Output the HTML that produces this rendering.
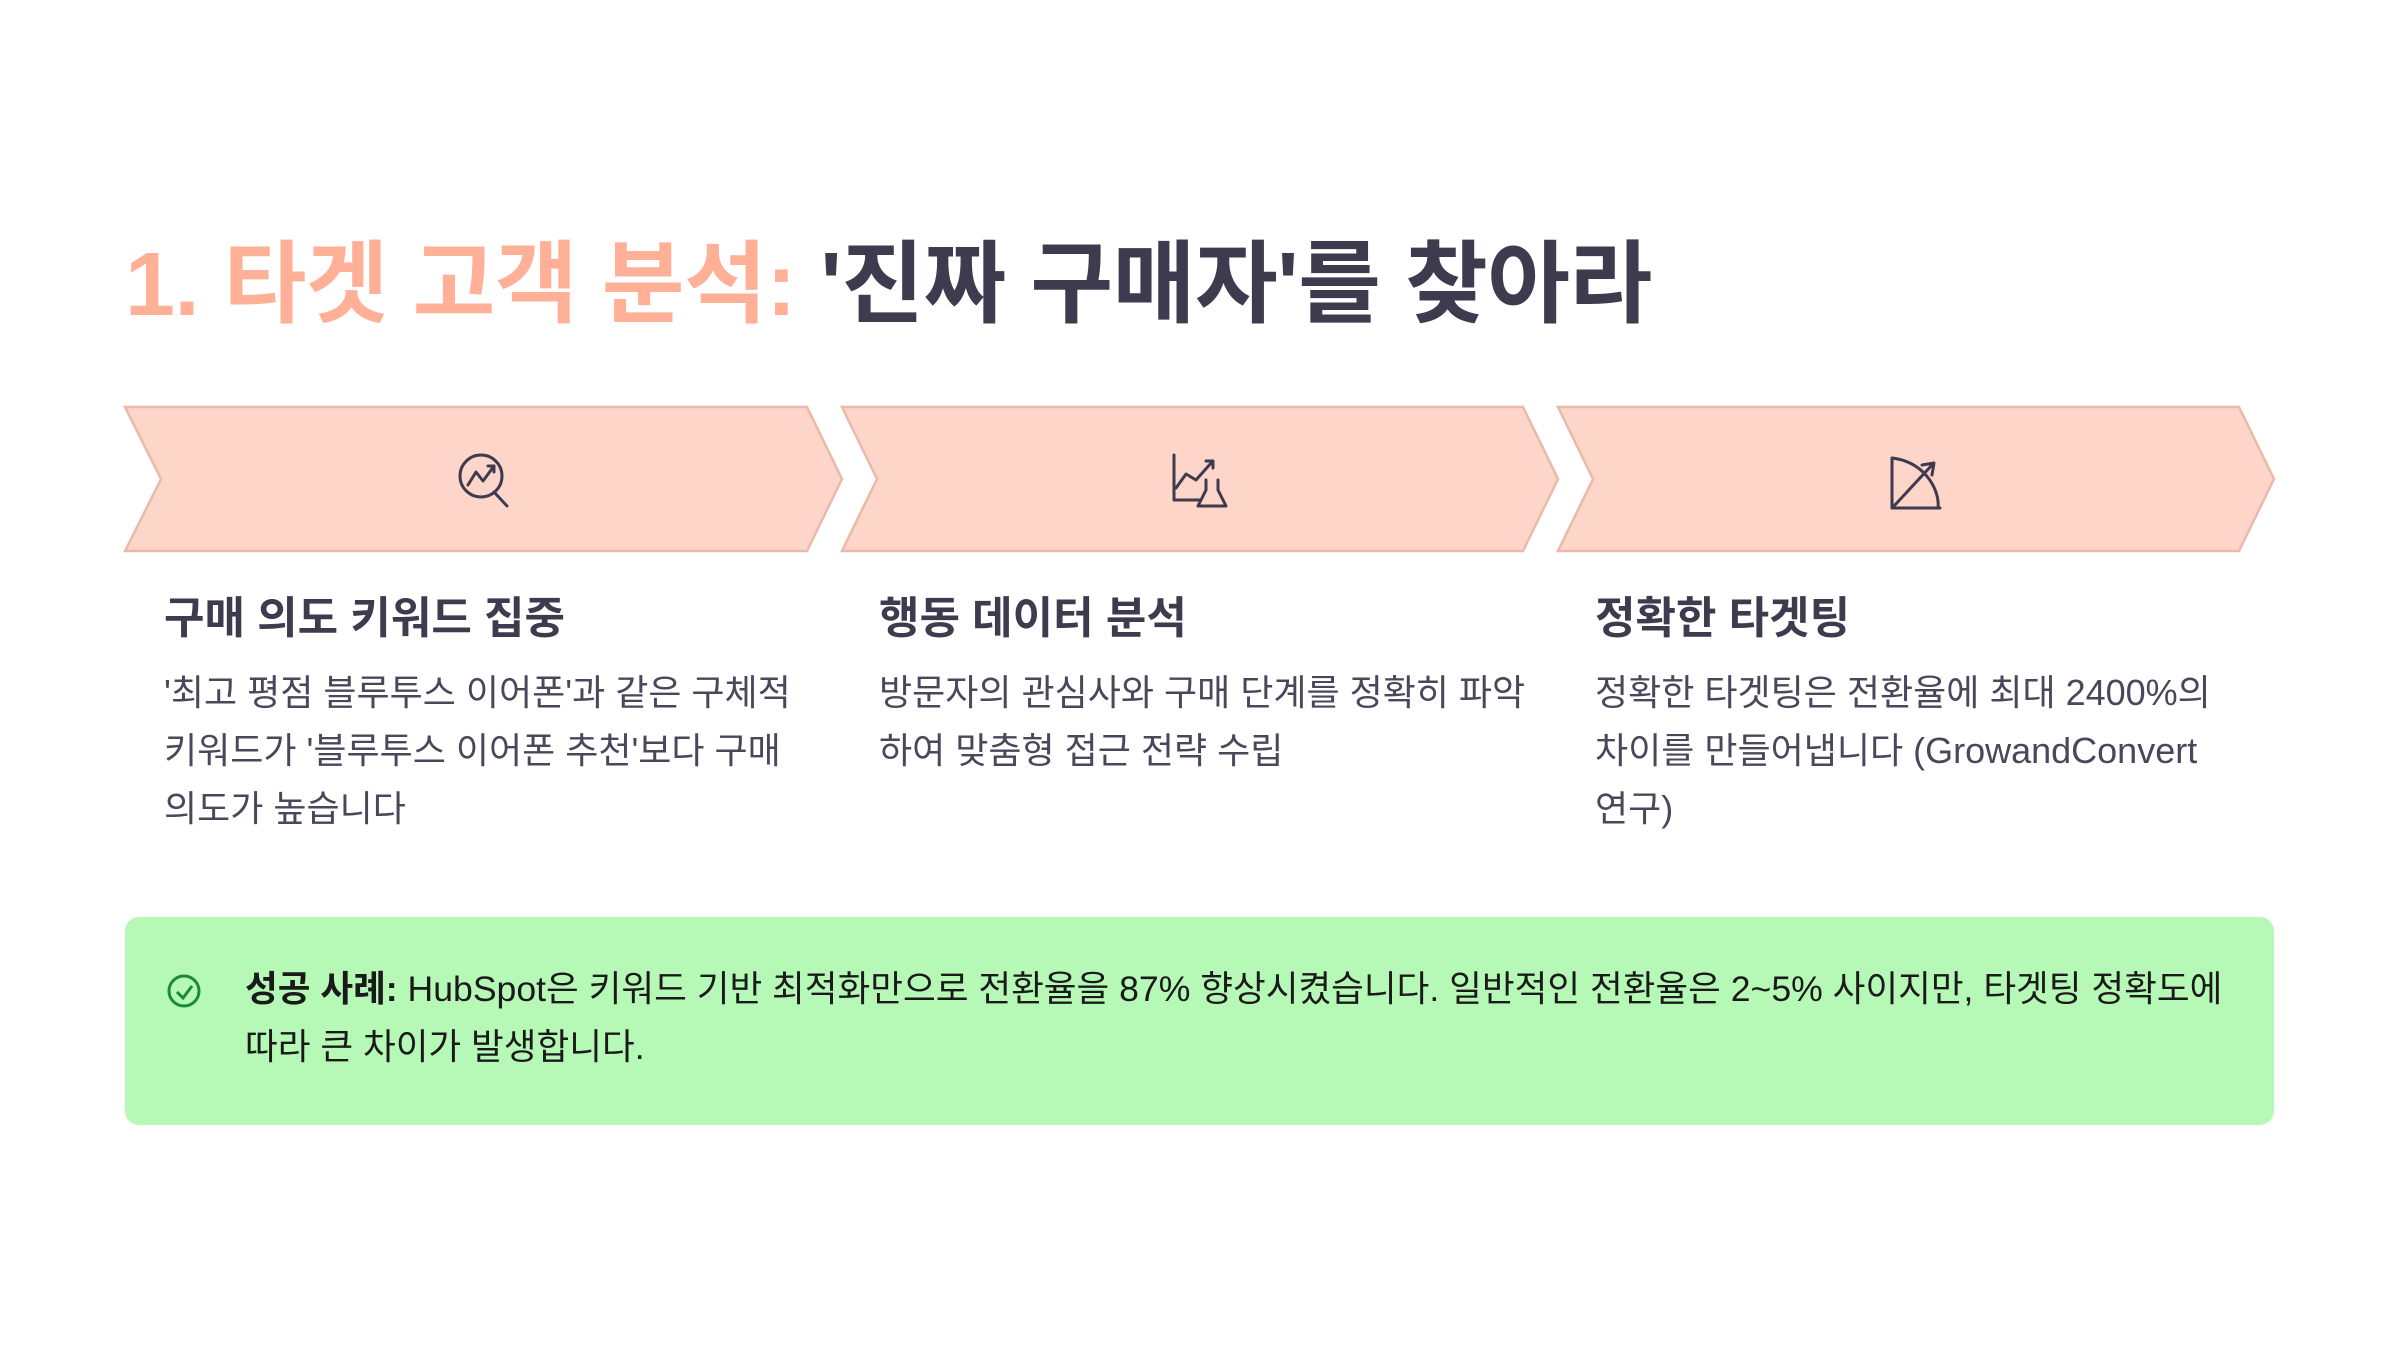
<!DOCTYPE html>
<html><head><meta charset="utf-8"><style>
body{margin:0;width:2400px;height:1350px;background:#fff;position:relative;overflow:hidden;font-family:"Liberation Sans","Noto Sans CJK KR",sans-serif;color:#3e3b4f}
.t{position:absolute;left:125px;top:211px;font-size:90px;font-weight:700;white-space:nowrap;letter-spacing:-0.5px}
.t span{color:#ffb097}
h3{position:absolute;margin:0;font-size:44px;font-weight:700;top:582px;white-space:nowrap}
p{position:absolute;margin:0;font-size:36px;line-height:58px;top:664px;width:690px;color:#4a475a;word-break:keep-all}
.g{position:absolute;left:125px;top:917px;width:2149px;height:208px;background:#b6f9b6;border-radius:14px}
.g p{left:120px;top:43px;width:2010px;color:#1a1a1a;font-size:35.6px}
</style></head><body>
<div class="t"><span>1. 타겟 고객 분석:</span> '진짜 구매자'를 찾아라</div>
<div class="g"><p><b>성공 사례:</b> HubSpot은 키워드 기반 최적화만으로 전환율을 87% 향상시켰습니다. 일반적인 전환율은 2~5% 사이지만, 타겟팅 정확도에 따라 큰 차이가 발생합니다.</p></div>
<svg width="2400" height="1350" style="position:absolute;left:0;top:0">
<g fill="#fdd6c9" stroke="#eab9a9" stroke-width="2.5">
<polygon points="125,407 807,407 842,479 807,551 125,551 161,479"/>
<polygon points="842,407 1523,407 1558,479 1523,551 842,551 877,479"/>
<polygon points="1558,407 2239,407 2274,479 2239,551 1558,551 1593,479"/>
</g>
<g fill="none" stroke="#3e3b4f" stroke-width="3" stroke-linecap="round" stroke-linejoin="round">
<circle cx="481" cy="476" r="21"/><path d="M494 492 L507 506"/><path d="M468 485 L476 472 L483 481 L494 466 M488 466 L494 466 L494 472"/>
<path d="M1174 455 V500 H1200 M1176 488 L1186 474 L1196 480 L1212 462 M1206 461 L1213 461 L1213 468"/>
<path d="M1206 480 V490 L1198 506 H1226 L1218 490 V480"/>
<path d="M1892 458 V508 H1940 M1892 458 C1925 462 1940 490 1938 508 M1894 506 L1932 465 M1922 465 L1934 463 L1932 475"/>
</g>
<circle cx="184" cy="991" r="15" fill="none" stroke="#1a8a3a" stroke-width="3"/>
<path d="M177 992 L183 998 L192 986" fill="none" stroke="#1a8a3a" stroke-width="3"/>
</svg>
<h3 style="left:164px">구매 의도 키워드 집중</h3>
<p style="left:164px">'최고 평점 블루투스 이어폰'과 같은 구체적 키워드가 '블루투스 이어폰 추천'보다 구매 의도가 높습니다</p>
<h3 style="left:879px">행동 데이터 분석</h3>
<p style="left:879px">방문자의 관심사와 구매 단계를 정확히 파악<br>하여 맞춤형 접근 전략 수립</p>
<h3 style="left:1595px">정확한 타겟팅</h3>
<p style="left:1595px">정확한 타겟팅은 전환율에 최대 2400%의 차이를 만들어냅니다 (GrowandConvert 연구)</p>
</body></html>
